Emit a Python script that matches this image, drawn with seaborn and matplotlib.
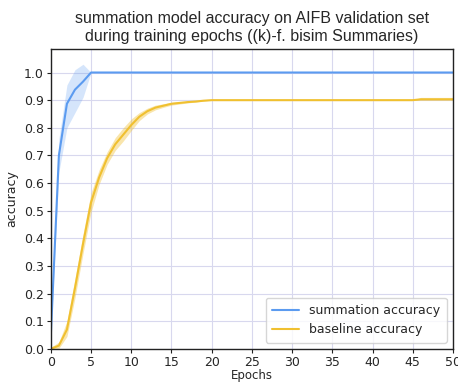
#!/usr/bin/env python3
# -*- coding: utf-8 -*-

import numpy as np
import pandas as pd
import matplotlib
matplotlib.use("Agg")
import matplotlib.pyplot as plt
import seaborn as sns

# ---------------------------------------------------------------------------
# Data (mean curve + band limits per epoch)
# ---------------------------------------------------------------------------
epochs = list(range(0, 51))

summ_mean = [0.05, 0.70, 0.887, 0.938, 0.967] + [1.0] * 46
summ_lo = [0.05, 0.64, 0.80, 0.855, 0.91] + [1.0] * 46
summ_hi = [0.05, 0.76, 0.955, 1.01, 1.03] + [1.0] * 46

base_mean = ([0.0, 0.012, 0.07, 0.22, 0.38, 0.53, 0.62, 0.69, 0.74, 0.775,
              0.81, 0.84, 0.86, 0.873, 0.88, 0.887, 0.89, 0.893, 0.895, 0.898]
             + [0.9] * 26 + [0.903] * 5)
base_lo = ([0.0, 0.002, 0.045, 0.185, 0.345, 0.495, 0.595, 0.668, 0.718, 0.752,
            0.79, 0.826, 0.85, 0.865, 0.874, 0.882, 0.886, 0.89, 0.893, 0.897]
           + [0.9] * 26 + [0.9] * 5)
base_hi = ([0.006, 0.025, 0.1, 0.255, 0.415, 0.565, 0.648, 0.713, 0.764, 0.8,
            0.832, 0.855, 0.871, 0.882, 0.887, 0.892, 0.894, 0.896, 0.898, 0.901]
           + [0.9] * 26 + [0.91] * 5)

series_names = ["summation accuracy", "baseline accuracy"]
colors = ["#5b9bf0", "#f0c030"]
band_alpha = [0.25, 0.4]

sns.set_style("white")
plt.rcParams["font.family"] = ["DejaVu Sans"]

df = pd.DataFrame({
    "Epochs": epochs * 2,
    "accuracy": summ_mean + base_mean,
    "lo": summ_lo + base_lo,
    "hi": summ_hi + base_hi,
    "series": [series_names[0]] * len(epochs) + [series_names[1]] * len(epochs),
})

fig = plt.figure(figsize=(4.58, 3.83), dpi=100)
ax = fig.add_axes([0.111, 0.089, 0.878, 0.783])

sns.lineplot(data=df, x="Epochs", y="accuracy", hue="series",
             palette=colors, linewidth=1.5, ax=ax, errorbar=None)

for name, c, a in zip(series_names, colors, band_alpha):
    sub = df[df["series"] == name]
    ax.fill_between(sub["Epochs"], sub["lo"], sub["hi"], color=c,
                    alpha=a, linewidth=0)

ax.set_xlim(0, 50)
ax.set_ylim(0, 1.085)
ax.set_xticks(np.arange(0, 51, 5))
ax.set_yticks(np.arange(0, 1.01, 0.1))
ax.grid(True, color="#d8d8ee", linewidth=0.8)
ax.set_axisbelow(True)
for s in ax.spines.values():
    s.set_color("#222222")
    s.set_linewidth(1.0)
ax.tick_params(axis="both", labelsize=9, length=3, pad=2, direction="out",
               left=True, bottom=True, color="#222222")
ax.set_xlabel("Epochs", fontsize=8.5, labelpad=0)
ax.set_ylabel("accuracy", fontsize=9)

ax.set_title("summation model accuracy on AIFB validation set\n"
             "during training epochs ((k)-f. bisim Summaries)",
             fontsize=11.5, family=["Liberation Sans", "DejaVu Sans"],
             pad=6)

leg = ax.legend(loc="lower right", fontsize=9, frameon=True,
                handlelength=2.2, borderpad=0.5)
leg.get_frame().set_edgecolor("#cccccc")

fig.savefig("out.png", dpi=100)
